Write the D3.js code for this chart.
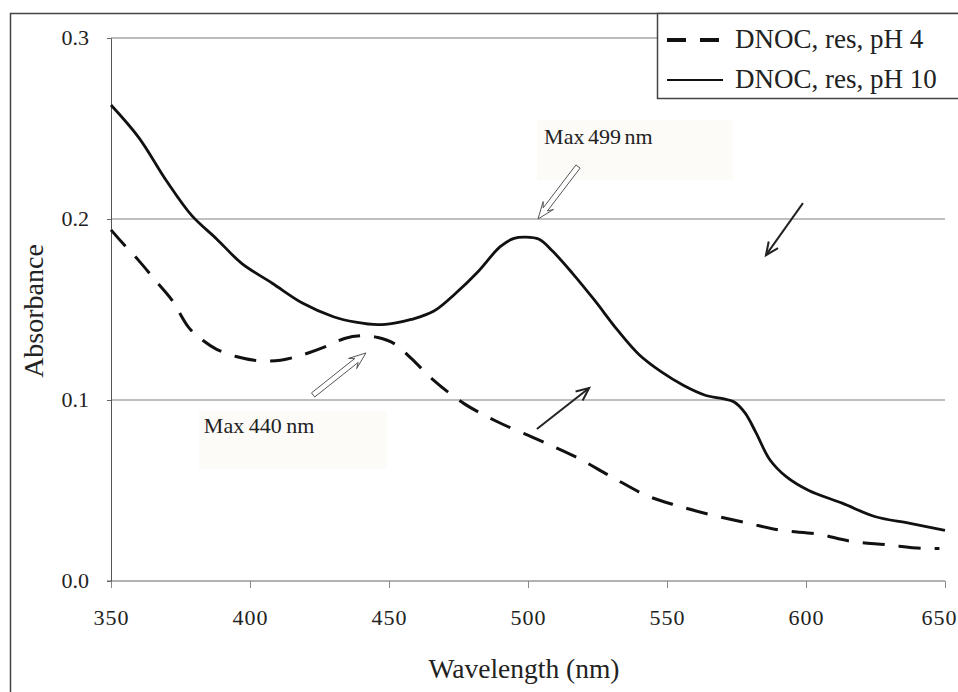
<!DOCTYPE html>
<meta charset="utf-8">
<style>
body { margin: 0; background: #fff; }
svg { display: block; }
</style>
<body>
<script src="https://d3js.org/d3.v7.min.js"></script>
<script>
'use strict';

// pH 4 spectrum (dashed)
const wlPH4  = [350, 354, 360, 366, 372, 378, 383, 388, 395, 403, 411, 419, 428, 434, 440, 446, 452, 458, 466, 477, 489, 504, 517, 530, 543, 554, 566, 579, 591, 604, 616, 629, 642, 648];
const absPH4 = [0.194, 0.187, 0.177, 0.166, 0.155, 0.140, 0.133, 0.128, 0.124, 0.1217, 0.122, 0.125, 0.130, 0.134, 0.1355, 0.1345, 0.131, 0.123, 0.111, 0.098, 0.088, 0.0778, 0.0687, 0.0576, 0.047, 0.0415, 0.0365, 0.032, 0.028, 0.026, 0.022, 0.020, 0.018, 0.018];

// pH 10 spectrum (solid)
const wlPH10  = [350, 360, 370, 379, 388, 397, 408, 419, 430, 438, 446, 452, 458, 466, 474, 482, 490, 495, 499, 504, 509, 516, 524, 532, 540, 548, 556, 564, 570, 574, 578, 582, 587, 593, 601, 613, 625, 637, 650];
const absPH10 = [0.263, 0.245, 0.221, 0.202, 0.189, 0.1755, 0.1645, 0.1534, 0.146, 0.143, 0.1416, 0.1425, 0.1445, 0.149, 0.159, 0.1709, 0.1847, 0.1893, 0.190, 0.1888, 0.182, 0.170, 0.155, 0.139, 0.125, 0.1155, 0.108, 0.1025, 0.1007, 0.099, 0.093, 0.082, 0.067, 0.0575, 0.050, 0.043, 0.0355, 0.032, 0.028];

const xTicks = [350, 400, 450, 500, 550, 600, 650];
const yTicks = [0.0, 0.1, 0.2, 0.3];
const seriesNames = ["DNOC, res, pH 4", "DNOC, res, pH 10"];

// annotation labels: text, box [wl0, wl1, a0, a1], text anchor [wl, a]
const noteTexts = ["Max 499 nm", "Max 440 nm"];
const noteBoxes = [[503.2, 573.7, 0.2547, 0.2215], [381.6, 449.3, 0.094, 0.062]];
const noteAnchors = [[505.8, 0.2415], [383.4, 0.0818]];
// hollow arrows [wlTail, aTail, wlTip, aTip]
const hollowArrows = [[518, 0.229, 503.6, 0.200], [422.7, 0.1028, 441.7, 0.126]];
// thin arrows
const thinArrows = [[598.9, 0.2088, 585.6, 0.180], [503.2, 0.084, 522, 0.1066]];

const W = 958, H = 692,
      serif = "'Liberation Serif'";
const x = d3.scaleLinear().domain([350, 650]).range([111, 945]),
      y = d3.scaleLinear().domain([0, 0.3]).range([581, 38]);

const svg = d3.select("body").append("svg")
    .attr("width", W)
    .attr("height", H);

// outer frame (runs past the visible edge on the right and bottom)
svg.append("rect")
    .attr("x", 10.5).attr("y", 13.5)
    .attr("width", 1000).attr("height", 1000)
    .attr("fill", "none")
    .attr("stroke", "#444")
    .attr("stroke-width", 1.5);

// grid lines
svg.append("g").selectAll("line")
    .data(yTicks.filter(d => d > 0))
  .enter().append("line")
    .attr("x1", x(350)).attr("x2", x(650))
    .attr("y1", d => y(d)).attr("y2", d => y(d))
    .attr("stroke", d => d === 0.3 ? "#777" : "#aaa")
    .attr("stroke-width", d => d === 0.3 ? 1 : 1.4);

// x axis
const xAxis = svg.append("g")
    .attr("transform", "translate(0," + y(0) + ")")
    .call(d3.axisBottom(x).tickValues(xTicks).tickSize(7).tickSizeOuter(0).tickFormat(d3.format("d")));
xAxis.select(".domain").attr("stroke", "#999").attr("stroke-width", 1.5)
    .attr("d", "M" + (x(350) - 4) + ",0H" + x(650));
xAxis.selectAll(".tick line").attr("stroke", "#888");
xAxis.selectAll(".tick text")
    .attr("y", 44)
    .attr("dy", 0)
    .attr("dx", d => d === 650 ? -6 : 0)
    .attr("fill", "#222")
    .style("font-family", serif)
    .style("font-size", "22px")
    .style("letter-spacing", "1px");

// y axis
const yAxis = svg.append("g")
    .attr("transform", "translate(" + x(350) + ",0)")
    .call(d3.axisLeft(y).tickValues(yTicks).tickSize(4).tickSizeOuter(0).tickFormat(d3.format(".1f")));
yAxis.select(".domain").attr("stroke", "#555");
yAxis.selectAll(".tick line").attr("stroke", "#666");
yAxis.selectAll(".tick text")
    .attr("x", -22)
    .attr("dy", 6)
    .attr("fill", "#222")
    .style("font-family", serif)
    .style("font-size", "22px");

// axis titles
svg.append("text")
    .attr("x", 524).attr("y", 678)
    .attr("text-anchor", "middle")
    .attr("fill", "#222")
    .style("font-family", serif)
    .style("font-size", "27.5px")
    .text("Wavelength (nm)");

svg.append("text")
    .attr("transform", "translate(43,311) rotate(-90)")
    .attr("text-anchor", "middle")
    .attr("fill", "#222")
    .style("font-family", serif)
    .style("font-size", "28px")
    .text("Absorbance");

// note boxes
noteBoxes.forEach((b, i) => {
  svg.append("rect")
      .attr("x", x(b[0])).attr("y", y(b[2]))
      .attr("width", x(b[1]) - x(b[0]))
      .attr("height", y(b[3]) - y(b[2]))
      .attr("fill", "#fcfbf8");
  svg.append("text")
      .attr("x", x(noteAnchors[i][0])).attr("y", y(noteAnchors[i][1]))
      .attr("fill", "#222")
      .style("font-family", serif)
      .style("font-size", "22px")
      .style("word-spacing", i === 0 ? "-2px" : "-1px")
      .text(noteTexts[i]);
});

// spectra
const line = d3.line()
    .x(d => x(d[0]))
    .y(d => y(d[1]))
    .curve(d3.curveCatmullRom.alpha(0.5));

svg.append("path")
    .datum(wlPH4.map((w, i) => [w, absPH4[i]]))
    .attr("d", line)
    .attr("fill", "none")
    .attr("stroke", "#111")
    .attr("stroke-width", 3)
    .attr("stroke-dasharray", "22,14");

svg.append("path")
    .datum(wlPH10.map((w, i) => [w, absPH10[i]]))
    .attr("d", line)
    .attr("fill", "none")
    .attr("stroke", "#111")
    .attr("stroke-width", 2.8);

// hollow arrows pointing at the maxima
hollowArrows.forEach(a => {
  const tx = x(a[0]), ty = y(a[1]), px = x(a[2]), py = y(a[3]);
  const len = Math.hypot(px - tx, py - ty),
        ux = (px - tx) / len, uy = (py - ty) / len,
        nx = -uy, ny = ux;
  const hw = 2.6, hh = 6.5, hl = 17, notch = 5;
  const sx = px - ux * hl, sy = py - uy * hl;
  const bx = sx + ux * notch, by = sy + uy * notch;
  const pts = [
    [tx + nx * hw, ty + ny * hw],
    [bx + nx * hw, by + ny * hw],
    [sx + nx * hh, sy + ny * hh],
    [px, py],
    [sx - nx * hh, sy - ny * hh],
    [bx - nx * hw, by - ny * hw],
    [tx - nx * hw, ty - ny * hw]
  ];
  svg.append("polygon")
      .attr("points", pts.map(p => p.join(",")).join(" "))
      .attr("fill", "#fff")
      .attr("stroke", "#555")
      .attr("stroke-width", 1);
});

// thin arrows showing the change
thinArrows.forEach(a => {
  const tx = x(a[0]), ty = y(a[1]), px = x(a[2]), py = y(a[3]);
  const ang = Math.atan2(py - ty, px - tx), hl = 14, spread = 0.42;
  svg.append("line")
      .attr("x1", tx).attr("y1", ty).attr("x2", px).attr("y2", py)
      .attr("stroke", "#222").attr("stroke-width", 2);
  svg.append("path")
      .attr("d", "M" + (px - hl * Math.cos(ang - spread)) + "," + (py - hl * Math.sin(ang - spread)) +
                 "L" + px + "," + py +
                 "L" + (px - hl * Math.cos(ang + spread)) + "," + (py - hl * Math.sin(ang + spread)))
      .attr("fill", "none")
      .attr("stroke", "#222").attr("stroke-width", 2);
});

// legend
const legend = svg.append("g");
legend.append("rect")
    .attr("x", 657.5).attr("y", 13.5)
    .attr("width", 400).attr("height", 85)
    .attr("fill", "#fff")
    .attr("stroke", "#444")
    .attr("stroke-width", 1.5);

seriesNames.forEach((name, i) => {
  const ly = 40 + i * 40;
  legend.append("line")
      .attr("x1", 667).attr("x2", 723)
      .attr("y1", ly).attr("y2", ly)
      .attr("stroke", "#111")
      .attr("stroke-width", i === 0 ? 4 : 2)
      .attr("stroke-dasharray", i === 0 ? "19,14" : null);
  legend.append("text")
      .attr("x", 735).attr("y", ly + 8)
      .attr("fill", "#222")
      .style("font-family", serif)
      .style("font-size", "27px")
      .text(name);
});
</script>
</body>
